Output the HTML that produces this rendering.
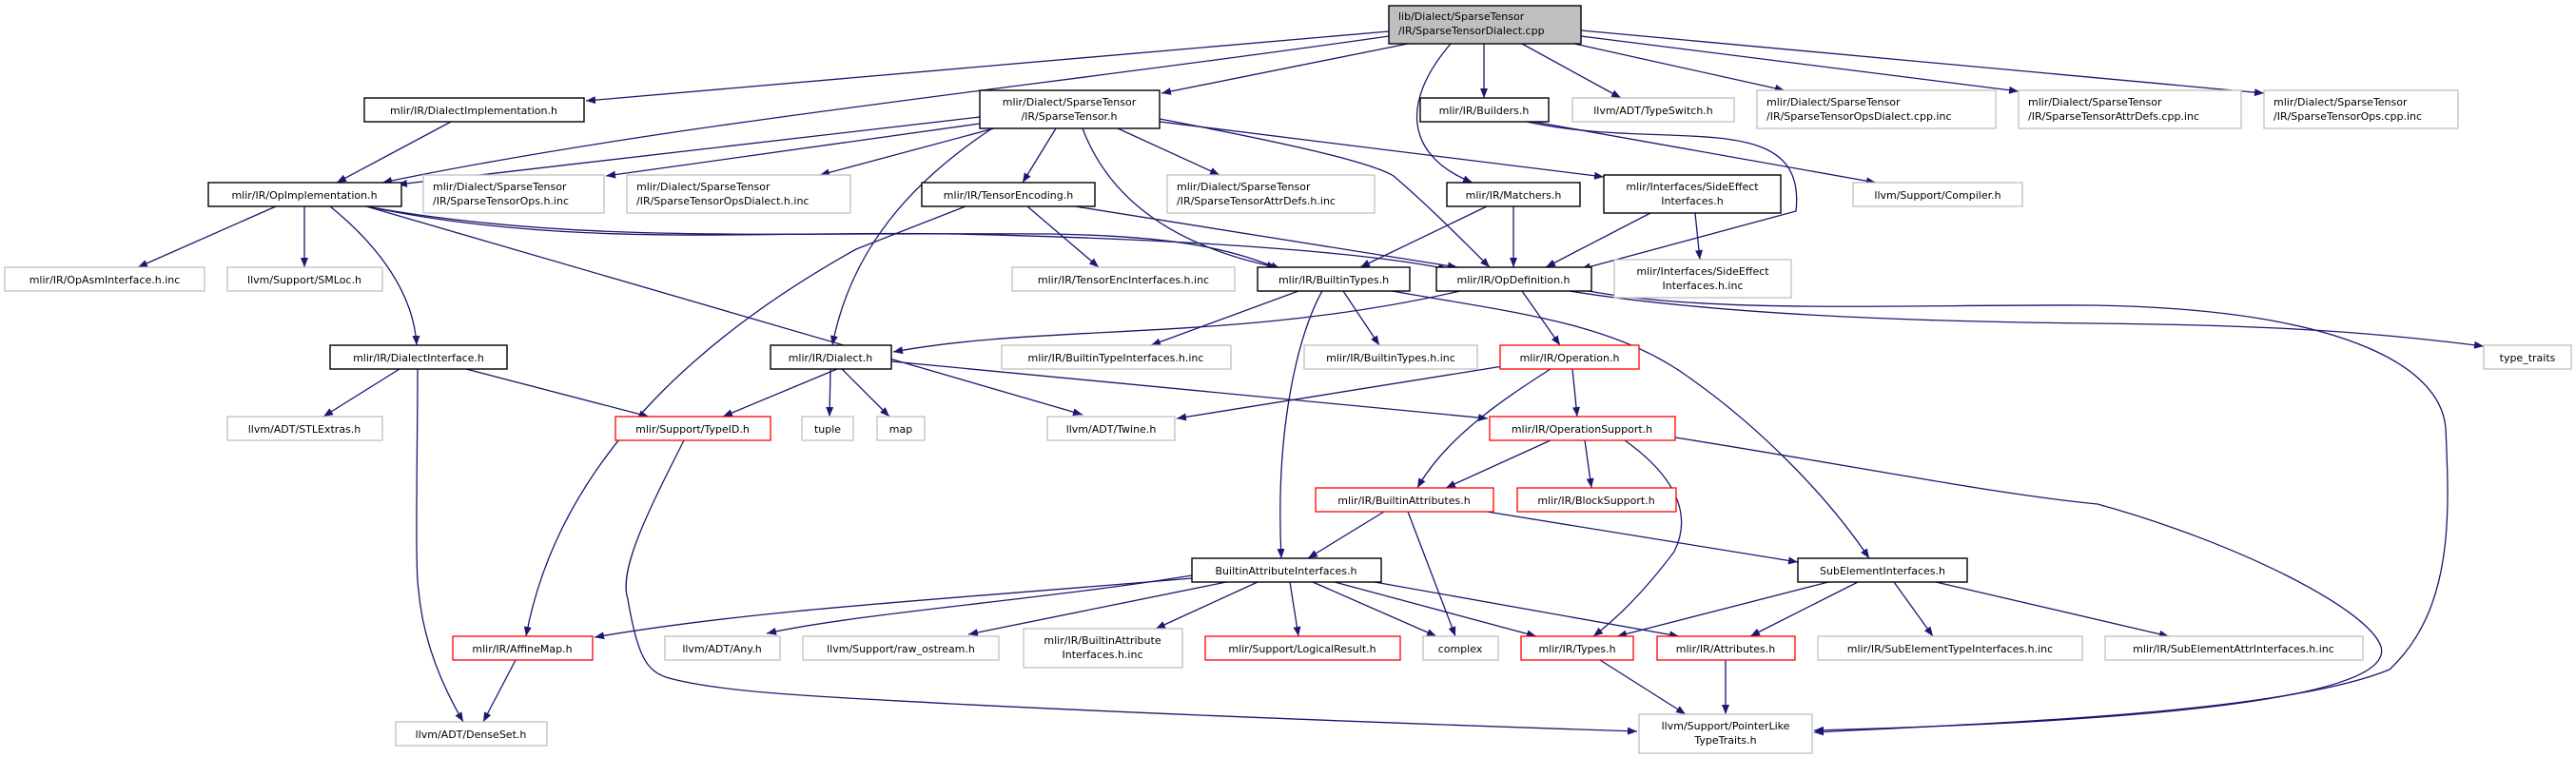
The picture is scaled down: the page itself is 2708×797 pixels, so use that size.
<!DOCTYPE html>
<html><head><meta charset="utf-8"><style>
html,body{margin:0;padding:0;background:#fff;}
svg{display:block;}
text{font-family:"DejaVu Sans","Liberation Sans",sans-serif;font-size:11px;fill:#000;}
.e{fill:none;stroke:#191970;stroke-width:1.3;marker-end:url(#ah);}
.b{fill:#fff;stroke:#000;stroke-width:1.4;}
.g{fill:#fff;stroke:#bfbfbf;stroke-width:1.3;}
.r{fill:#fff;stroke:#ff0000;stroke-width:1.3;}
</style></head><body>
<svg width="2708" height="797" viewBox="0 0 2708 797" xmlns="http://www.w3.org/2000/svg">
<defs><marker id="ah" markerWidth="10" markerHeight="8" refX="10" refY="4" orient="auto" markerUnits="userSpaceOnUse"><polygon points="0,0 10,4 0,8" fill="#191970"/></marker></defs>
<g>
<path class="e" d="M1460,33 L616,106"/>
<path class="e" d="M1460,38 C1100,90 700,130 402,192"/>
<path class="e" d="M1480,46 L1221,98"/>
<path class="e" d="M1525,46 C1470,110 1480,165 1548,192"/>
<path class="e" d="M1560,46 L1560,103"/>
<path class="e" d="M1600,46 L1704,103"/>
<path class="e" d="M1655,46 L1876,95"/>
<path class="e" d="M1662,38 L2122,96"/>
<path class="e" d="M1662,32 L2380,98"/>
<path class="e" d="M1612,128 L1972,192"/>
<path class="e" d="M1605,128 C1750,160 1900,110 1888,222 L1662,283"/>
<path class="e" d="M1030,123 L418,194"/>
<path class="e" d="M1030,130 L637,185"/>
<path class="e" d="M1045,135 L862,184"/>
<path class="e" d="M1043,135 C960,190 895,260 875,363"/>
<path class="e" d="M1110,135 L1075,192"/>
<path class="e" d="M1138,135 C1170,220 1250,262 1342,281"/>
<path class="e" d="M1175,135 L1282,184"/>
<path class="e" d="M1219,125 C1350,150 1440,170 1465,185 C1500,215 1535,250 1566,281"/>
<path class="e" d="M1219,128 L1686,186"/>
<path class="e" d="M474,128 L354,192"/>
<path class="e" d="M290,217 L145,281"/>
<path class="e" d="M320,217 L320,281"/>
<path class="e" d="M347,217 C400,260 435,310 438,363"/>
<path class="e" d="M385,217 C600,262 800,242 1000,246 C1200,250 1420,262 1522,283"/>
<path class="e" d="M385,217 C600,256 800,244 1100,246 C1250,248 1300,265 1346,283"/>
<path class="e" d="M385,217 L1138,436"/>
<path class="e" d="M1130,217 L1532,281"/>
<path class="e" d="M1080,217 L1155,281"/>
<path class="e" d="M1015,217 L900,262 C760,340 590,470 553,669"/>
<path class="e" d="M1563,217 L1430,281"/>
<path class="e" d="M1591,217 L1591,281"/>
<path class="e" d="M1735,224 L1625,281"/>
<path class="e" d="M1782,224 L1787,273"/>
<path class="e" d="M1365,306 L1210,363"/>
<path class="e" d="M1412,306 L1450,363"/>
<path class="e" d="M1390,306 C1365,350 1340,450 1347,587"/>
<path class="e" d="M1463,306 C1600,330 1700,340 1780,400 C1850,450 1920,520 1965,587"/>
<path class="e" d="M1535,306 C1300,360 1100,340 939,370"/>
<path class="e" d="M1600,306 L1640,363"/>
<path class="e" d="M1650,306 C1800,330 2000,338 2200,340 C2400,342 2500,350 2611,364"/>
<path class="e" d="M1670,306 C1800,330 2000,320 2200,321 C2450,325 2565,380 2571,450 C2575,540 2580,640 2512,704 C2400,750 2100,760 1907,770"/>
<path class="e" d="M1761,460 C1950,490 2100,520 2205,530 C2350,570 2490,640 2503,680 C2520,740 2200,760 1907,768"/>
<path class="e" d="M719,463 C680,540 650,600 660,630 C670,690 680,705 700,712 C760,730 900,734 1000,740 C1300,755 1600,765 1721,769"/>
<path class="e" d="M880,388 L760,438"/>
<path class="e" d="M873,388 L872,438"/>
<path class="e" d="M885,388 L935,438"/>
<path class="e" d="M937,380 L1564,440"/>
<path class="e" d="M420,388 L340,438"/>
<path class="e" d="M490,388 L682,438"/>
<path class="e" d="M439,388 C439,470 436,600 440,620 C445,680 470,730 487,759"/>
<path class="e" d="M1580,385 L1237,440"/>
<path class="e" d="M1653,388 L1658,438"/>
<path class="e" d="M1630,388 C1580,420 1520,460 1490,513"/>
<path class="e" d="M1630,463 L1520,513"/>
<path class="e" d="M1666,463 L1673,513"/>
<path class="e" d="M1708,463 C1760,500 1780,540 1760,580 C1730,620 1700,650 1675,669"/>
<path class="e" d="M1455,538 L1375,587"/>
<path class="e" d="M1480,538 L1530,669"/>
<path class="e" d="M1563,538 L1890,591"/>
<path class="e" d="M1253,608 C1000,630 800,640 625,670"/>
<path class="e" d="M1253,605 C1100,630 900,645 806,666"/>
<path class="e" d="M1289,612 L1018,667"/>
<path class="e" d="M1322,612 L1215,661"/>
<path class="e" d="M1356,612 L1365,669"/>
<path class="e" d="M1380,612 L1510,669"/>
<path class="e" d="M1403,612 L1615,669"/>
<path class="e" d="M1445,612 L1765,669"/>
<path class="e" d="M1922,612 L1700,669"/>
<path class="e" d="M1953,612 L1840,669"/>
<path class="e" d="M1991,612 L2032,669"/>
<path class="e" d="M2035,612 L2280,669"/>
<path class="e" d="M542,694 L508,759"/>
<path class="e" d="M1682,694 L1772,751"/>
<path class="e" d="M1814,694 L1814,751"/>
</g>
<g text-anchor="middle">
<rect x="1460" y="6" width="202" height="40" fill="#bfbfbf" stroke="#000" stroke-width="1.4"/>
<text x="1470" y="21" text-anchor="start">lib/Dialect/SparseTensor</text><text x="1470" y="36" text-anchor="start">/IR/SparseTensorDialect.cpp</text>

<rect class="b" x="383" y="103" width="231" height="25"/><text x="498" y="120">mlir/IR/DialectImplementation.h</text>
<rect class="b" x="1030" y="95" width="189" height="40"/><text x="1124" y="111">mlir/Dialect/SparseTensor</text><text x="1124" y="126">/IR/SparseTensor.h</text>
<rect class="b" x="1493" y="103" width="135" height="25"/><text x="1560" y="120">mlir/IR/Builders.h</text>
<rect class="g" x="1653" y="103" width="170" height="25"/><text x="1738" y="120">llvm/ADT/TypeSwitch.h</text>
<rect class="g" x="1847" y="95" width="251" height="40"/><text x="1857" y="111" text-anchor="start">mlir/Dialect/SparseTensor</text><text x="1857" y="126" text-anchor="start">/IR/SparseTensorOpsDialect.cpp.inc</text>
<rect class="g" x="2122" y="95" width="234" height="40"/><text x="2132" y="111" text-anchor="start">mlir/Dialect/SparseTensor</text><text x="2132" y="126" text-anchor="start">/IR/SparseTensorAttrDefs.cpp.inc</text>
<rect class="g" x="2380" y="95" width="204" height="40"/><text x="2390" y="111" text-anchor="start">mlir/Dialect/SparseTensor</text><text x="2390" y="126" text-anchor="start">/IR/SparseTensorOps.cpp.inc</text>

<rect class="b" x="219" y="192" width="203" height="25"/><text x="320" y="209">mlir/IR/OpImplementation.h</text>
<rect class="g" x="445" y="184" width="190" height="40"/><text x="455" y="200" text-anchor="start">mlir/Dialect/SparseTensor</text><text x="455" y="215" text-anchor="start">/IR/SparseTensorOps.h.inc</text>
<rect class="g" x="659" y="184" width="235" height="40"/><text x="669" y="200" text-anchor="start">mlir/Dialect/SparseTensor</text><text x="669" y="215" text-anchor="start">/IR/SparseTensorOpsDialect.h.inc</text>
<rect class="b" x="969" y="192" width="182" height="25"/><text x="1060" y="209">mlir/IR/TensorEncoding.h</text>
<rect class="g" x="1227" y="184" width="218" height="40"/><text x="1237" y="200" text-anchor="start">mlir/Dialect/SparseTensor</text><text x="1237" y="215" text-anchor="start">/IR/SparseTensorAttrDefs.h.inc</text>
<rect class="b" x="1521" y="192" width="140" height="25"/><text x="1591" y="209">mlir/IR/Matchers.h</text>
<rect class="b" x="1686" y="184" width="186" height="40"/><text x="1779" y="200">mlir/Interfaces/SideEffect</text><text x="1779" y="215">Interfaces.h</text>
<rect class="g" x="1948" y="192" width="178" height="25"/><text x="2037" y="209">llvm/Support/Compiler.h</text>

<rect class="g" x="5" y="281" width="210" height="25"/><text x="110" y="298">mlir/IR/OpAsmInterface.h.inc</text>
<rect class="g" x="239" y="281" width="163" height="25"/><text x="320" y="298">llvm/Support/SMLoc.h</text>
<rect class="g" x="1064" y="281" width="234" height="25"/><text x="1181" y="298">mlir/IR/TensorEncInterfaces.h.inc</text>
<rect class="b" x="1322" y="281" width="160" height="25"/><text x="1402" y="298">mlir/IR/BuiltinTypes.h</text>
<rect class="b" x="1510" y="281" width="163" height="25"/><text x="1591" y="298">mlir/IR/OpDefinition.h</text>
<rect class="g" x="1697" y="273" width="186" height="40"/><text x="1790" y="289">mlir/Interfaces/SideEffect</text><text x="1790" y="304">Interfaces.h.inc</text>

<rect class="b" x="347" y="363" width="186" height="25"/><text x="440" y="380">mlir/IR/DialectInterface.h</text>
<rect class="b" x="810" y="363" width="127" height="25"/><text x="873" y="380">mlir/IR/Dialect.h</text>
<rect class="g" x="1053" y="363" width="241" height="25"/><text x="1173" y="380">mlir/IR/BuiltinTypeInterfaces.h.inc</text>
<rect class="g" x="1371" y="363" width="182" height="25"/><text x="1462" y="380">mlir/IR/BuiltinTypes.h.inc</text>
<rect class="r" x="1577" y="363" width="146" height="25"/><text x="1650" y="380">mlir/IR/Operation.h</text>
<rect class="g" x="2611" y="363" width="92" height="25"/><text x="2657" y="380">type_traits</text>

<rect class="g" x="239" y="438" width="163" height="25"/><text x="320" y="455">llvm/ADT/STLExtras.h</text>
<rect class="r" x="647" y="438" width="163" height="25"/><text x="728" y="455">mlir/Support/TypeID.h</text>
<rect class="g" x="843" y="438" width="54" height="25"/><text x="870" y="455">tuple</text>
<rect class="g" x="922" y="438" width="50" height="25"/><text x="947" y="455">map</text>
<rect class="g" x="1101" y="438" width="134" height="25"/><text x="1168" y="455">llvm/ADT/Twine.h</text>
<rect class="r" x="1566" y="438" width="195" height="25"/><text x="1663" y="455">mlir/IR/OperationSupport.h</text>

<rect class="r" x="1383" y="513" width="187" height="25"/><text x="1476" y="530">mlir/IR/BuiltinAttributes.h</text>
<rect class="r" x="1595" y="513" width="167" height="25"/><text x="1678" y="530">mlir/IR/BlockSupport.h</text>

<rect class="b" x="1253" y="587" width="199" height="25"/><text x="1352" y="604">BuiltinAttributeInterfaces.h</text>
<rect class="b" x="1890" y="587" width="178" height="25"/><text x="1979" y="604">SubElementInterfaces.h</text>

<rect class="r" x="476" y="669" width="147" height="25"/><text x="549" y="686">mlir/IR/AffineMap.h</text>
<rect class="g" x="699" y="669" width="121" height="25"/><text x="759" y="686">llvm/ADT/Any.h</text>
<rect class="g" x="844" y="669" width="206" height="25"/><text x="947" y="686">llvm/Support/raw_ostream.h</text>
<rect class="g" x="1076" y="661" width="167" height="41"/><text x="1159" y="677">mlir/IR/BuiltinAttribute</text><text x="1159" y="692">Interfaces.h.inc</text>
<rect class="r" x="1267" y="669" width="205" height="25"/><text x="1369" y="686">mlir/Support/LogicalResult.h</text>
<rect class="g" x="1496" y="669" width="79" height="25"/><text x="1535" y="686">complex</text>
<rect class="r" x="1599" y="669" width="118" height="25"/><text x="1658" y="686">mlir/IR/Types.h</text>
<rect class="r" x="1742" y="669" width="145" height="25"/><text x="1814" y="686">mlir/IR/Attributes.h</text>
<rect class="g" x="1911" y="669" width="278" height="25"/><text x="2050" y="686">mlir/IR/SubElementTypeInterfaces.h.inc</text>
<rect class="g" x="2213" y="669" width="271" height="25"/><text x="2348" y="686">mlir/IR/SubElementAttrInterfaces.h.inc</text>

<rect class="g" x="416" y="759" width="159" height="25"/><text x="495" y="776">llvm/ADT/DenseSet.h</text>
<rect class="g" x="1723" y="751" width="182" height="41"/><text x="1814" y="767">llvm/Support/PointerLike</text><text x="1814" y="782">TypeTraits.h</text>
</g>
</svg>
</body></html>
